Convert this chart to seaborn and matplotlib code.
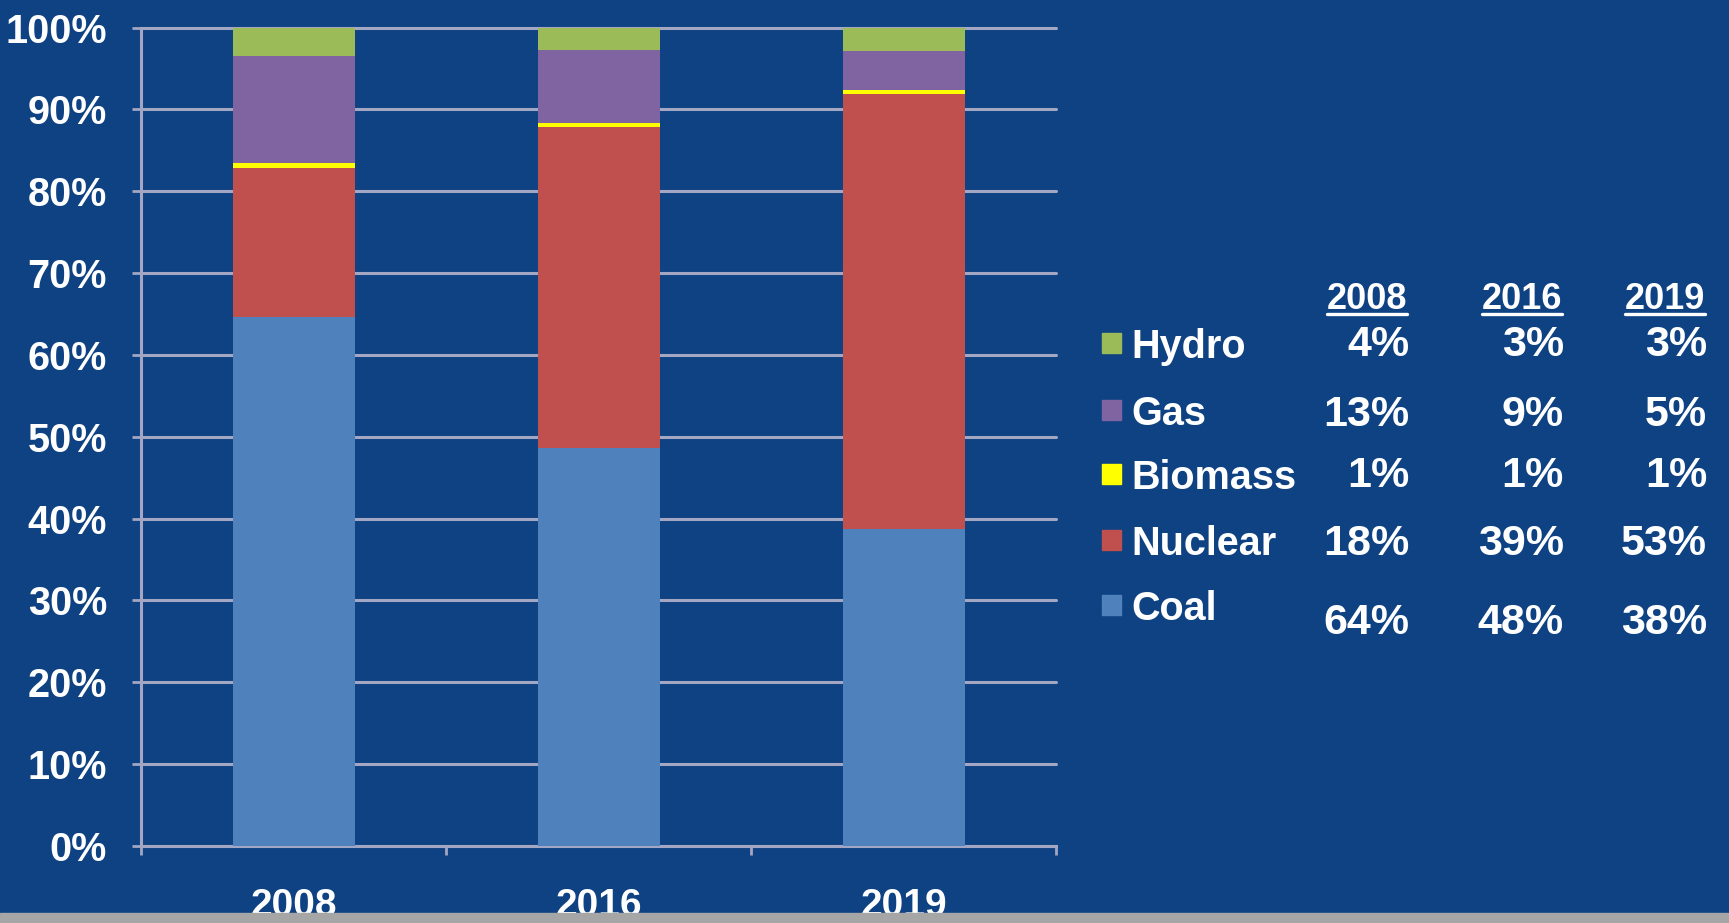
import numpy as np
import pandas as pd
import matplotlib
matplotlib.use('Agg')
import matplotlib.pyplot as plt
from matplotlib.patches import Rectangle
from matplotlib.lines import Line2D
import seaborn as sns

# Generation mix by year (bar heights, % of total)
years = ['2008', '2016', '2019']
sources = ['Coal', 'Nuclear', 'Biomass', 'Gas', 'Hydro']
coal = [64.6, 48.6, 38.7]
nuclear = [18.3, 39.3, 53.2]
biomass = [0.6, 0.5, 0.5]
gas = [13.0, 8.9, 4.8]
hydro = [3.5, 2.7, 2.8]

# Rounded shares printed in the side table
coal_pct = [64, 48, 38]
nuclear_pct = [18, 39, 53]
biomass_pct = [1, 1, 1]
gas_pct = [13, 9, 5]
hydro_pct = [4, 3, 3]

y_ticks = [0, 10, 20, 30, 40, 50, 60, 70, 80, 90, 100]

BG = '#0F4282'
GRID = '#A4A7C3'
colors = {
    'Coal': '#4F81BD',
    'Nuclear': '#C0504D',
    'Biomass': '#FFFF00',
    'Gas': '#8064A2',
    'Hydro': '#9BBB59',
}

sns.set_style('dark')
plt.rcParams['font.family'] = ['Liberation Sans', 'DejaVu Sans']

W, H = 1729, 923


def fx(px):
    return px / W


def fy(py):
    return 1 - py / H


df = pd.DataFrame({'year': years, 'Coal': coal, 'Nuclear': nuclear,
                   'Biomass': biomass, 'Gas': gas, 'Hydro': hydro})
cum = df[sources].cumsum(axis=1)

fig = plt.figure(figsize=(W / 100, H / 100), dpi=100, facecolor=BG)
ax = fig.add_axes([fx(141), fy(846), fx(1056) - fx(141), fy(27.6) - fy(846)])
ax.set_facecolor(BG)

# stacked bars: draw cumulative totals from the top series down
for src in reversed(sources):
    sns.barplot(x=df['year'], y=cum[src], color=colors[src], width=0.4,
                saturation=1, linewidth=0, ax=ax, zorder=3)

ax.set_xlim(-0.5, 2.5)
ax.set_ylim(0, 100)
ax.set_xlabel('')
ax.set_ylabel('')

ax.set_yticks(y_ticks)
ax.set_yticklabels([f'{v}%' for v in y_ticks])
ax.yaxis.grid(True, color=GRID, lw=2.2)
ax.xaxis.grid(False)
ax.set_axisbelow(True)
for gl in ax.get_ygridlines():
    gl.set_clip_on(False)

ax.set_xticks([-0.5, 0.5, 1.5, 2.5], minor=True)
ax.tick_params(axis='x', which='major', length=0, pad=30,
               labelsize=28, labelcolor='white')
ax.tick_params(axis='x', which='minor', length=6.5, width=2, color=GRID,
               direction='out', bottom=True)
ax.tick_params(axis='y', length=6.5, width=2, color=GRID, direction='out',
               left=True, pad=18, labelsize=28.5, labelcolor='white')
for lab in ax.get_xticklabels() + ax.get_yticklabels():
    lab.set_fontweight('bold')

for side in ['top', 'right']:
    ax.spines[side].set_visible(False)
for side in ['left', 'bottom']:
    ax.spines[side].set_color(GRID)
    ax.spines[side].set_linewidth(2.2)

# side table with legend swatches
rows = [('Hydro', hydro_pct), ('Gas', gas_pct), ('Biomass', biomass_pct),
        ('Nuclear', nuclear_pct), ('Coal', coal_pct)]
label_base = [358, 425, 489, 555, 620]
value_base = [356, 426, 487, 555, 634]
col_right = [1409, 1564, 1707]

for (name, pcts), lb, vb in zip(rows, label_base, value_base):
    fig.add_artist(Rectangle((fx(1102), fy(lb - 5)), 19 / W, 20 / H,
                             transform=fig.transFigure, color=colors[name]))
    fig.text(fx(1131), fy(lb), name, ha='left', va='baseline', fontsize=28.5,
             fontweight='bold', color='white')
    for cx, p in zip(col_right, pcts):
        fig.text(fx(cx), fy(vb), f'{p}%', ha='right', va='baseline',
                 fontsize=31, fontweight='bold', color='white')

headers = []
for cx, yr in zip(col_right, years):
    headers.append(fig.text(fx(cx - 2), fy(309), yr, ha='right', va='baseline',
                            fontsize=26, fontweight='bold', color='white'))

fig.canvas.draw()
inv = fig.transFigure.inverted()
for t in headers:
    bb = t.get_window_extent().transformed(inv)
    fig.add_artist(Line2D([bb.x0, bb.x1], [fy(314), fy(314)],
                          transform=fig.transFigure, color='white', lw=2.4))

# grey strip along the bottom edge
fig.add_artist(Rectangle((0, 0), 1, 10 / H, transform=fig.transFigure,
                         color='#A6A6A6', zorder=10))

fig.savefig('out.png', dpi=100, facecolor=BG)
